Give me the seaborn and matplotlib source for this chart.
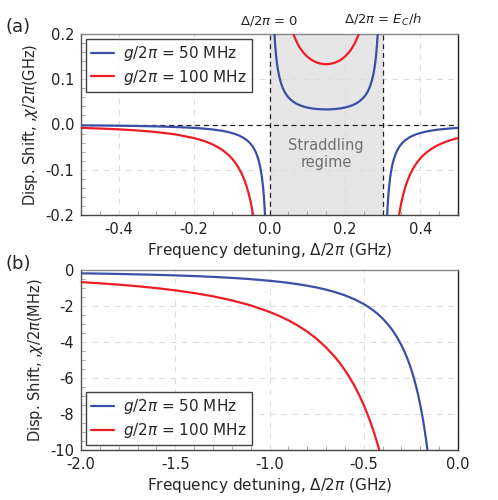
import matplotlib
matplotlib.use("Agg")
import matplotlib.pyplot as plt
from matplotlib.ticker import MultipleLocator, FormatStrFormatter
import seaborn as sns

# ---- panel (a): dispersive shift in GHz vs detuning in GHz ----
ec_line = 0.3  # Delta/2pi = E_C/h

# g/2pi = 50 MHz
blue_left_x = [-0.5, -0.45, -0.4, -0.35, -0.3, -0.25, -0.2, -0.18, -0.15, -0.13, -0.12, -0.11,
               -0.1, -0.09, -0.08, -0.07, -0.06, -0.055, -0.05, -0.045, -0.04, -0.035, -0.03,
               -0.025, -0.02, -0.017, -0.015, -0.013, -0.012, -0.011]
blue_left_y = [-0.0019, -0.0022, -0.0027, -0.0033, -0.0042, -0.0055, -0.0075, -0.0087, -0.0111,
               -0.0134, -0.0149, -0.0166, -0.0188, -0.0214, -0.0247, -0.029, -0.0347, -0.0384,
               -0.0429, -0.0483, -0.0551, -0.064, -0.0758, -0.0923, -0.1172, -0.1392, -0.1587,
               -0.1843, -0.2003, -0.2192]
blue_mid_x = [0.012, 0.013, 0.015, 0.017, 0.018, 0.02, 0.022, 0.025, 0.03, 0.035, 0.04, 0.045,
              0.05, 0.06, 0.07, 0.08, 0.09, 0.1, 0.11, 0.12, 0.13, 0.14, 0.15, 0.16, 0.17, 0.18,
              0.19, 0.2, 0.21, 0.22, 0.23, 0.24, 0.25, 0.255, 0.26, 0.265, 0.27, 0.275, 0.278,
              0.28, 0.282, 0.283, 0.285, 0.287, 0.288]
blue_mid_y = [0.217, 0.201, 0.1754, 0.1559, 0.1478, 0.1339, 0.1226, 0.1091, 0.0926, 0.0809,
              0.0721, 0.0654, 0.06, 0.0521, 0.0466, 0.0426, 0.0397, 0.0375, 0.0359, 0.0347,
              0.0339, 0.0335, 0.0333, 0.0335, 0.0339, 0.0347, 0.0359, 0.0375, 0.0397, 0.0426,
              0.0466, 0.0521, 0.06, 0.0654, 0.0721, 0.0809, 0.0926, 0.1091, 0.1226, 0.1339,
              0.1478, 0.1559, 0.1754, 0.201, 0.217]
blue_right_x = [0.311, 0.312, 0.313, 0.315, 0.317, 0.32, 0.322, 0.325, 0.327, 0.33, 0.335, 0.34,
                0.345, 0.35, 0.355, 0.36, 0.37, 0.38, 0.39, 0.4, 0.415, 0.43, 0.445, 0.46, 0.48, 0.5]
blue_right_y = [-0.2192, -0.2003, -0.1843, -0.1587, -0.1392, -0.1172, -0.1059, -0.0923, -0.0849,
                -0.0758, -0.064, -0.0551, -0.0483, -0.0429, -0.0384, -0.0347, -0.029, -0.0247,
                -0.0214, -0.0188, -0.0157, -0.0134, -0.0116, -0.0102, -0.0087, -0.0075]

# g/2pi = 100 MHz
red_left_x = [-0.5, -0.45, -0.4, -0.35, -0.3, -0.25, -0.2, -0.18, -0.17, -0.16, -0.15, -0.14,
              -0.13, -0.12, -0.11, -0.105, -0.1, -0.095, -0.09, -0.085, -0.08, -0.075, -0.07,
              -0.065, -0.06, -0.055, -0.0525, -0.05, -0.047, -0.044, -0.042]
red_left_y = [-0.0075, -0.0089, -0.0107, -0.0132, -0.0167, -0.0218, -0.03, -0.0347, -0.0375,
              -0.0408, -0.0444, -0.0487, -0.0537, -0.0595, -0.0665, -0.0705, -0.075, -0.0799,
              -0.0855, -0.0917, -0.0987, -0.1067, -0.1158, -0.1264, -0.1389, -0.1536, -0.1621,
              -0.1714, -0.184, -0.1982, -0.2089]
red_mid_x = [0.06, 0.062, 0.065, 0.07, 0.075, 0.08, 0.085, 0.09, 0.1, 0.11, 0.12, 0.13, 0.14,
             0.15, 0.16, 0.17, 0.18, 0.19, 0.2, 0.21, 0.215, 0.22, 0.225, 0.23, 0.235, 0.238, 0.24]
red_mid_y = [0.2083, 0.2033, 0.1964, 0.1863, 0.1778, 0.1705, 0.1642, 0.1587, 0.15, 0.1435,
             0.1389, 0.1357, 0.1339, 0.1333, 0.1339, 0.1357, 0.1389, 0.1435, 0.15, 0.1587,
             0.1642, 0.1705, 0.1778, 0.1863, 0.1964, 0.2033, 0.2083]
red_right_x = [0.342, 0.344, 0.347, 0.35, 0.3525, 0.355, 0.36, 0.365, 0.37, 0.375, 0.38, 0.385,
               0.39, 0.395, 0.4, 0.405, 0.41, 0.42, 0.43, 0.44, 0.45, 0.46, 0.47, 0.48, 0.49, 0.5]
red_right_y = [-0.2089, -0.1982, -0.184, -0.1714, -0.1621, -0.1536, -0.1389, -0.1264, -0.1158,
               -0.1067, -0.0987, -0.0917, -0.0855, -0.0799, -0.075, -0.0705, -0.0665, -0.0595,
               -0.0537, -0.0487, -0.0444, -0.0408, -0.0375, -0.0347, -0.0322, -0.03]

# ---- panel (b): dispersive shift in MHz, negative detuning ----
b_blue_x = [-2.0, -1.9, -1.8, -1.7, -1.6, -1.5, -1.4, -1.3, -1.2, -1.1, -1.0, -0.95, -0.9,
            -0.85, -0.8, -0.75, -0.7, -0.65, -0.6, -0.55, -0.5, -0.475, -0.45, -0.425, -0.4,
            -0.375, -0.35, -0.325, -0.3, -0.285, -0.27, -0.26, -0.25, -0.24, -0.23, -0.22,
            -0.21, -0.2, -0.19, -0.18, -0.17, -0.16]
b_blue_y = [-0.163, -0.179, -0.198, -0.221, -0.247, -0.278, -0.315, -0.361, -0.417, -0.487,
            -0.577, -0.632, -0.694, -0.767, -0.852, -0.952, -1.071, -1.215, -1.389, -1.604,
            -1.875, -2.037, -2.222, -2.434, -2.679, -2.963, -3.297, -3.692, -4.167, -4.498,
            -4.873, -5.151, -5.455, -5.787, -6.153, -6.556, -7.003, -7.5, -8.056, -8.681,
            -9.387, -10.19]
b_red_x = [-2.0, -1.9, -1.8, -1.7, -1.6, -1.5, -1.4, -1.3, -1.2, -1.1, -1.0, -0.95, -0.9,
           -0.85, -0.8, -0.75, -0.7, -0.65, -0.625, -0.6, -0.575, -0.55, -0.525, -0.5, -0.485,
           -0.47, -0.46, -0.45, -0.44, -0.43, -0.42, -0.41]
b_red_y = [-0.652, -0.718, -0.794, -0.882, -0.987, -1.111, -1.261, -1.442, -1.667, -1.948,
           -2.308, -2.526, -2.778, -3.069, -3.409, -3.81, -4.286, -4.858, -5.189, -5.556,
           -5.963, -6.417, -6.926, -7.5, -7.88, -8.29, -8.581, -8.889, -9.214, -9.557, -9.921,
           -10.306]

labels = [r"$g/2\pi$ = 50 MHz", r"$g/2\pi$ = 100 MHz"]
colors = ["#3a4fa6", "#ee1c25"]

sns.set_style("white")
plt.rcParams["font.family"] = ["DejaVu Sans"]
plt.rcParams["axes.unicode_minus"] = False
plt.rcParams["mathtext.fontset"] = "dejavusans"
plt.rcParams["lines.solid_joinstyle"] = "round"

fig = plt.figure(figsize=(4.98, 5.0), dpi=100)
ax_a = fig.add_axes([0.1627, 0.57, 0.757, 0.362])
ax_b = fig.add_axes([0.1627, 0.10, 0.757, 0.361])


def style_axes(ax):
    ax.grid(True, color="#dddddd", linestyle=(0, (5, 5)), linewidth=0.8)
    ax.set_axisbelow(True)
    ax.spines["left"].set_color("#555555")
    ax.spines["bottom"].set_color("#444444")
    ax.spines["top"].set_color("#888888")
    ax.spines["right"].set_color("#222222")
    for s in ax.spines.values():
        s.set_linewidth(1.0)
    ax.tick_params(which="both", direction="in", colors="#999999", labelcolor="#222222",
                   labelsize=10.5, left=True, bottom=True)
    ax.tick_params(which="major", length=0, pad=5)
    ax.tick_params(which="minor", length=3, width=0.6)


# panel (a)
ax_a.axvspan(0, ec_line, color="#e6e6e6", zorder=0)
segs = [
    (blue_left_x, blue_left_y, 0), (blue_mid_x, blue_mid_y, 0), (blue_right_x, blue_right_y, 0),
    (red_left_x, red_left_y, 1), (red_mid_x, red_mid_y, 1), (red_right_x, red_right_y, 1),
]
seen = set()
for xs, ys, k in segs:
    lab = labels[k] if k not in seen else None
    seen.add(k)
    sns.lineplot(x=xs, y=ys, ax=ax_a, color=colors[k], linewidth=1.6, sort=False,
                 label=lab, zorder=3)
ax_a.axhline(0, color="#222222", linestyle=(0, (4, 3)), linewidth=0.9, zorder=2)
for xv in [0, ec_line]:
    ax_a.axvline(xv, color="#222222", linestyle=(0, (4, 3)), linewidth=0.9, zorder=2)
ax_a.set_xlim(-0.5, 0.5)
ax_a.set_ylim(-0.2, 0.2)
ax_a.xaxis.set_major_locator(MultipleLocator(0.2))
ax_a.xaxis.set_minor_locator(MultipleLocator(0.05))
ax_a.yaxis.set_major_locator(MultipleLocator(0.1))
ax_a.yaxis.set_minor_locator(MultipleLocator(0.02))
ax_a.xaxis.set_major_formatter(FormatStrFormatter("%.1f"))
ax_a.yaxis.set_major_formatter(FormatStrFormatter("%.1f"))
style_axes(ax_a)
ax_a.set_xlabel(r"Frequency detuning, $\Delta/2\pi$ (GHz)", fontsize=11, labelpad=3)
ax_a.set_ylabel(r"Disp. Shift, ,$\chi/2\pi$(GHz)", fontsize=10.5, labelpad=4)
ax_a.text(0.15, -0.065, "Straddling\nregime", ha="center", va="center", fontsize=10.5,
          color="#707070", linespacing=1.2)
trans = ax_a.get_xaxis_transform()
ax_a.text(0, 1.035, r"$\Delta/2\pi$ = 0", transform=trans, ha="center", va="bottom", fontsize=9.5)
ax_a.text(ec_line, 1.035, r"$\Delta/2\pi$ = $E_C/h$", transform=trans, ha="center",
          va="bottom", fontsize=9.5)
leg = ax_a.legend(loc="upper left", fontsize=11, frameon=True, fancybox=False,
                  handlelength=1.5, borderaxespad=0.3, borderpad=0.35, labelspacing=0.3,
                  handletextpad=0.6)
leg.get_frame().set_edgecolor("#111111")
leg.get_frame().set_linewidth(1.0)

# panel (b)
sns.lineplot(x=b_blue_x, y=b_blue_y, ax=ax_b, color=colors[0], linewidth=1.6, sort=False,
             label=labels[0], zorder=3)
sns.lineplot(x=b_red_x, y=b_red_y, ax=ax_b, color=colors[1], linewidth=1.6, sort=False,
             label=labels[1], zorder=3)
ax_b.set_xlim(-2.0, 0.0)
ax_b.set_ylim(-10, 0.05)
ax_b.xaxis.set_major_locator(MultipleLocator(0.5))
ax_b.xaxis.set_minor_locator(MultipleLocator(0.1))
ax_b.yaxis.set_major_locator(MultipleLocator(2))
ax_b.yaxis.set_minor_locator(MultipleLocator(0.5))
ax_b.xaxis.set_major_formatter(FormatStrFormatter("%.1f"))
ax_b.yaxis.set_major_formatter(FormatStrFormatter("%d"))
style_axes(ax_b)
ax_b.set_xlabel(r"Frequency detuning, $\Delta/2\pi$ (GHz)", fontsize=11, labelpad=3)
ax_b.set_ylabel(r"Disp. Shift, ,$\chi/2\pi$(MHz)", fontsize=10.5, labelpad=4)
leg = ax_b.legend(loc="lower left", fontsize=11, frameon=True, fancybox=False,
                  handlelength=1.5, borderaxespad=0.3, borderpad=0.35, labelspacing=0.3,
                  handletextpad=0.6)
leg.get_frame().set_edgecolor("#111111")
leg.get_frame().set_linewidth(1.0)

fig.text(0.012, 0.965, "(a)", fontsize=13, va="top")
fig.text(0.012, 0.49, "(b)", fontsize=13, va="top")

fig.savefig("out.png", dpi=100, facecolor="white")
